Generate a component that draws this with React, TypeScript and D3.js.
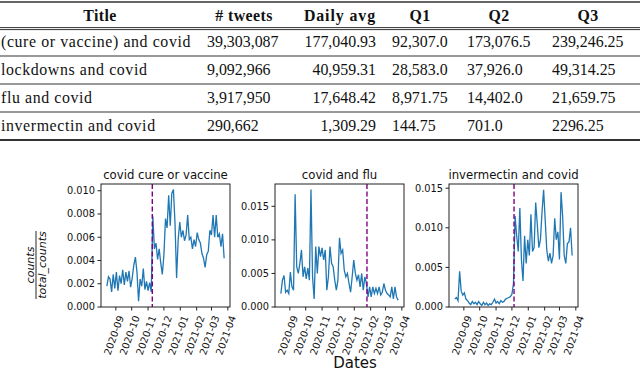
import React from "react";
import * as d3 from "d3";

// ---- table data ----
const headers = ["Title", "# tweets", "Daily avg", "Q1", "Q2", "Q3"];
const queries = ["(cure or vaccine) and covid", "lockdowns and covid", "flu and covid", "invermectin and covid"];
const tweets = ["39,303,087", "9,092,966", "3,917,950", "290,662"];
const dailyAvg = ["177,040.93", "40,959.31", "17,648.42", "1,309.29"];
const q1 = ["92,307.0", "28,583.0", "8,971.75", "144.75"];
const q2 = ["173,076.5", "37,926.0", "14,402.0", "701.0"];
const q3 = ["239,246.25", "49,314.25", "21,659.75", "2296.25"];

// ---- series data (every 3 days from 2020-08-15) ----
const startDate = new Date(2020, 7, 15);
const stepDays = 3;

const cureVaccine = [
  0.0018, 0.0026, 0.0024, 0.0013, 0.0028, 0.0016, 0.003, 0.0014, 0.0027, 0.002,
  0.0032, 0.0019, 0.003, 0.0022, 0.0031, 0.0017, 0.0025, 0.0036, 0.0043, 0.003,
  0.0005, 0.0024, 0.0018, 0.0033, 0.0015, 0.0022, 0.0014, 0.0021, 0.0013, 0.0078,
  0.005, 0.0055, 0.0041, 0.005, 0.0038, 0.0028, 0.0045, 0.0076, 0.0068, 0.0096,
  0.007, 0.0098, 0.0101, 0.0072, 0.0025, 0.0058, 0.0073, 0.006, 0.0066, 0.0057,
  0.0062, 0.0079, 0.0058, 0.006, 0.005, 0.0058, 0.0052, 0.0064, 0.0058, 0.0055,
  0.0046, 0.0042, 0.0034, 0.0045, 0.0048, 0.0066, 0.0062, 0.0079, 0.006, 0.0079,
  0.006, 0.0063, 0.0052, 0.0063, 0.0042,
];

const flu = [
  0.002, 0.004, 0.0047, 0.0022, 0.0025, 0.002, 0.0052, 0.003, 0.0025, 0.0168,
  0.006, 0.005, 0.0065, 0.0085, 0.0045, 0.006, 0.0042, 0.0058, 0.004, 0.0175,
  0.0045, 0.0012, 0.009, 0.005, 0.009, 0.0075, 0.0088, 0.007, 0.0085, 0.0025,
  0.0045, 0.009, 0.0065, 0.006, 0.004, 0.0025, 0.004, 0.0103, 0.008, 0.0085,
  0.0055, 0.0045, 0.005, 0.0035, 0.0022, 0.0045, 0.007, 0.005, 0.004, 0.0048,
  0.003, 0.005, 0.0025, 0.0045, 0.0035, 0.0015, 0.003, 0.0015, 0.003, 0.002,
  0.0028, 0.002, 0.003, 0.0018, 0.0022, 0.0035, 0.0025, 0.002, 0.0018, 0.0015,
  0.003, 0.0012, 0.003, 0.0015, 0.001,
];

const ivermectin = [
  0.001, 0.0012, 0.0008, 0.0045, 0.002, 0.0015, 0.0018, 0.001, 0.0008, 0.0005,
  0.0003, 0.0007, 0.0004, 0.0006, 0.0003, 0.0007, 0.0004, 0.0002, 0.0006, 0.0003,
  0.0005, 0.0002, 0.0004, 0.0003, 0.0006, 0.001, 0.0005, 0.0007, 0.0004, 0.0008,
  0.0006, 0.0007, 0.001, 0.0011, 0.0012, 0.0013, 0.0016, 0.003, 0.0115, 0.009,
  0.007, 0.0125, 0.006, 0.0033, 0.009, 0.0055, 0.0085, 0.0065, 0.0117, 0.007,
  0.0075, 0.0132, 0.0105, 0.0075, 0.0085, 0.012, 0.0148, 0.011, 0.0072, 0.0058,
  0.0068, 0.0055, 0.0065, 0.0112, 0.0085, 0.0095, 0.006, 0.0145, 0.0115, 0.0065,
  0.0055, 0.008, 0.0082, 0.01, 0.0065,
];

const panelTitles = ["covid cure or vaccine", "covid and flu", "invermectin and covid"];
const panelSeries = [cureVaccine, flu, ivermectin];
const eventDates = [new Date(2020, 10, 9), new Date(2021, 0, 25), new Date(2020, 11, 5)];
const yTicks = [
  [0, 0.002, 0.004, 0.006, 0.008, 0.01],
  [0, 0.005, 0.01, 0.015],
  [0, 0.005, 0.01, 0.015],
];

// layout
const W = 640;
const H = 368;
const plotLefts = [101, 275, 449];
const plotW = 129;
const plotTop = 184;
const plotBottom = 307;

const tickFont = "'DejaVu Sans', sans-serif";
const serif = "'Liberation Serif', 'DejaVu Serif', serif";

function Panel({ idx }: { idx: number }) {
  const values = panelSeries[idx];
  const dates = values.map((_, i) => d3.timeDay.offset(startDate, i * stepDays));
  const [d0, d1] = d3.extent(dates) as [Date, Date];
  const span = +d1 - +d0;
  const x = d3
    .scaleTime()
    .domain([new Date(+d0 - span * 0.05), new Date(+d1 + span * 0.05)])
    .range([plotLefts[idx], plotLefts[idx] + plotW]);
  const [vmin, vmax] = d3.extent(values) as [number, number];
  const y = d3
    .scaleLinear()
    .domain([0, vmax + (vmax - vmin) * 0.05])
    .range([plotBottom, plotTop]);

  const line = d3
    .line<number>()
    .x((_, i) => x(dates[i]))
    .y((d) => y(d));

  const months = d3.timeMonth.range(new Date(2020, 8, 1), new Date(2021, 3, 2));
  const fmt = d3.timeFormat("%Y-%m");
  const left = plotLefts[idx];
  const ev = x(eventDates[idx]);

  return (
    <g style={{ fontFamily: tickFont }}>
      <text x={left + plotW / 2} y={plotTop - 5} textAnchor="middle" fontSize={11.7} fill="#111">
        {panelTitles[idx]}
      </text>
      <path d={line(values) || ""} fill="none" stroke="#1f77b4" strokeWidth={1.3} />
      <line
        x1={ev}
        x2={ev}
        y1={plotTop}
        y2={plotBottom}
        stroke="#800080"
        strokeWidth={1.4}
        strokeDasharray="5,2.5"
      />
      <rect
        x={left}
        y={plotTop}
        width={plotW}
        height={plotBottom - plotTop}
        fill="none"
        stroke="#222"
        strokeWidth={1}
      />
      {yTicks[idx].map((t) => (
        <g key={t}>
          <line x1={left - 3.5} x2={left} y1={y(t)} y2={y(t)} stroke="#222" />
          <text x={left - 6} y={y(t)} dy="0.35em" textAnchor="end" fontSize={9.8} fill="#111">
            {t.toFixed(3)}
          </text>
        </g>
      ))}
      {months.map((m) => (
        <g key={+m}>
          <line x1={x(m)} x2={x(m)} y1={plotBottom} y2={plotBottom + 3.5} stroke="#222" />
          <text
            transform={`translate(${x(m) + 5},${plotBottom + 9}) rotate(-70)`}
            textAnchor="end"
            dominantBaseline="central"
            fontSize={9.8}
            fill="#111"
          >
            {fmt(m)}
          </text>
        </g>
      ))}
    </g>
  );
}

export default function App() {
  const baselines = [21, 46.5, 75, 103, 131];
  const rules = [
    { y: 2, w: 1.6 },
    { y: 27.6, w: 1 },
    { y: 29.6, w: 1 },
    { y: 56, w: 1.2 },
    { y: 84, w: 1.2 },
    { y: 112, w: 1.2 },
    { y: 140, w: 2 },
  ];
  const fs = 15.9;
  // column anchors for values and header centre
  const cols = [
    { vals: queries, x: 1, anchor: "start", hx: 100, hAnchor: "middle", ls: 0.6 },
    { vals: tweets, x: 207, anchor: "start", hx: 244, hAnchor: "middle", ls: 0 },
    { vals: dailyAvg, x: 376, anchor: "end", hx: 376, hAnchor: "end", ls: 0 },
    { vals: q1, x: 392, anchor: "start", hx: 420, hAnchor: "middle", ls: 0 },
    { vals: q2, x: 467, anchor: "start", hx: 499, hAnchor: "middle", ls: 0 },
    { vals: q3, x: 552, anchor: "start", hx: 588, hAnchor: "middle", ls: 0 },
  ];

  return (
    <svg width={W} height={H} style={{ position: "absolute", left: 0, top: 0, background: "#fff" }}>
      <rect width={W} height={H} fill="#fff" />
      {rules.map((r, i) => (
        <line key={i} x1={0} x2={W} y1={r.y} y2={r.y} stroke="#333" strokeWidth={r.w} />
      ))}
      {cols.map((c, ci) => (
        <g key={ci} style={{ fontFamily: serif }} fontSize={fs} fill="#111">
          <text
            x={c.hx}
            y={baselines[0]}
            textAnchor={c.hAnchor}
            fontWeight="bold"
            letterSpacing={ci === 2 ? 0.9 : 0.4}
          >
            {headers[ci]}
          </text>
          {c.vals.map((v, ri) => (
            <text key={ri} x={c.x} y={baselines[ri + 1]} textAnchor={c.anchor} letterSpacing={c.ls}>
              {v}
            </text>
          ))}
        </g>
      ))}

      {panelTitles.map((_, i) => (
        <Panel key={i} idx={i} />
      ))}

      <g
        transform="translate(36,265) rotate(-90)"
        style={{ fontFamily: tickFont }}
        fontStyle="italic"
        fontSize={11}
        fill="#111"
      >
        <text x={0} y={-2.5} textAnchor="middle">
          counts
        </text>
        <line x1={-34} x2={34} y1={0} y2={0} stroke="#111" strokeWidth={0.9} />
        <text x={0} y={10} textAnchor="middle">
          total_counts
        </text>
      </g>
      <text x={355} y={368} textAnchor="middle" style={{ fontFamily: tickFont }} fontSize={15} fill="#111">
        Dates
      </text>
    </svg>
  );
}
